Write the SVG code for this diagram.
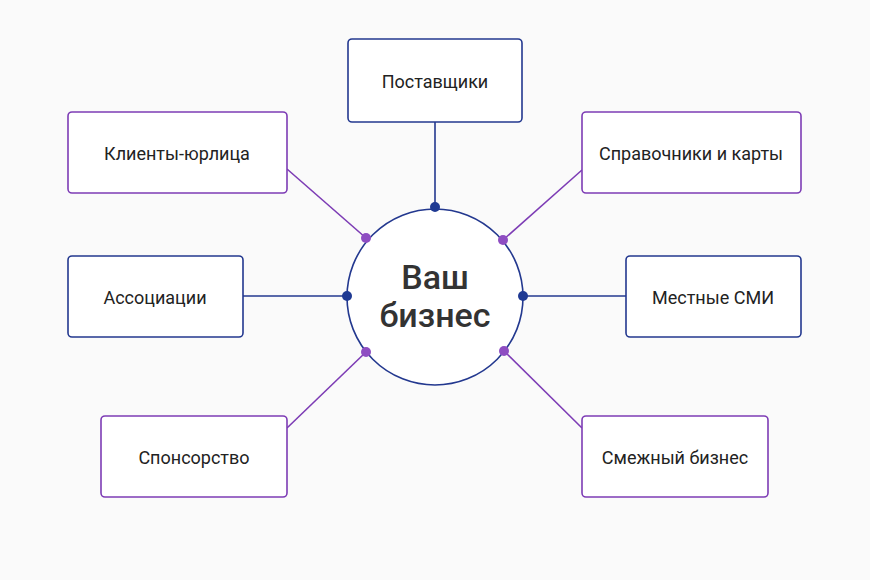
<svg xmlns="http://www.w3.org/2000/svg" width="870" height="580" viewBox="0 0 870 580">
<style>
.b{fill:#fff;stroke-width:1.6}
.bl{stroke:#23388f}
.pu{stroke:#7d3cb5}
.t{font-family:Roboto,"Liberation Sans",sans-serif;font-size:18px;fill:#222;text-anchor:middle;dominant-baseline:central}
.c{font-family:Roboto,"Liberation Sans",sans-serif;font-size:34px;font-weight:500;fill:#333;text-anchor:middle}
.lb{stroke:#23388f;stroke-width:1.6}
.lp{stroke:#7d3cb5;stroke-width:1.6}
.db{fill:#1f3a93}
.dp{fill:#8e4dc2}
</style>
<rect width="870" height="580" fill="#fafafa"/>
<g id="connectors">
<line class="lb" x1="435" y1="122" x2="435" y2="207"/>
<line class="lb" x1="243" y1="296" x2="347" y2="296"/>
<line class="lb" x1="523" y1="296" x2="626" y2="296"/>
<line class="lp" x1="287" y1="169" x2="366" y2="238"/>
<line class="lp" x1="582" y1="170" x2="503" y2="240"/>
<line class="lp" x1="287" y1="428" x2="366" y2="352"/>
<line class="lp" x1="582" y1="428" x2="504" y2="351"/>
</g>
<g id="center">
<circle cx="435" cy="297" r="88" fill="#fff" stroke="#23388f" stroke-width="1.6"/>
<text class="c" x="435" y="289">Ваш</text>
<text class="c" x="435" y="327">бизнес</text>
<circle class="db" cx="435" cy="207" r="5"/>
<circle class="db" cx="347" cy="296" r="5"/>
<circle class="db" cx="523" cy="296" r="5"/>
<circle class="dp" cx="366" cy="238" r="5"/>
<circle class="dp" cx="503" cy="240" r="5"/>
<circle class="dp" cx="366" cy="352" r="5"/>
<circle class="dp" cx="504" cy="351" r="5"/>
</g>
<g id="n1"><rect class="b bl" x="348" y="39" width="174" height="83" rx="4"/><text class="t" x="435" y="81">Поставщики</text></g>
<g id="n2"><rect class="b pu" x="68" y="112" width="219" height="81" rx="4"/><text class="t" x="177" y="153">Клиенты-юрлица</text></g>
<g id="n3"><rect class="b pu" x="582" y="112" width="219" height="81" rx="4"/><text class="t" x="691" y="153">Справочники и карты</text></g>
<g id="n4"><rect class="b bl" x="68" y="256" width="175" height="81" rx="4"/><text class="t" x="155" y="297">Ассоциации</text></g>
<g id="n5"><rect class="b bl" x="626" y="256" width="175" height="81" rx="4"/><text class="t" x="713" y="297">Местные СМИ</text></g>
<g id="n6"><rect class="b pu" x="101" y="416" width="186" height="81" rx="4"/><text class="t" x="194" y="457">Спонсорство</text></g>
<g id="n7"><rect class="b pu" x="582" y="416" width="186" height="81" rx="4"/><text class="t" x="675" y="457">Смежный бизнес</text></g>
</svg>
